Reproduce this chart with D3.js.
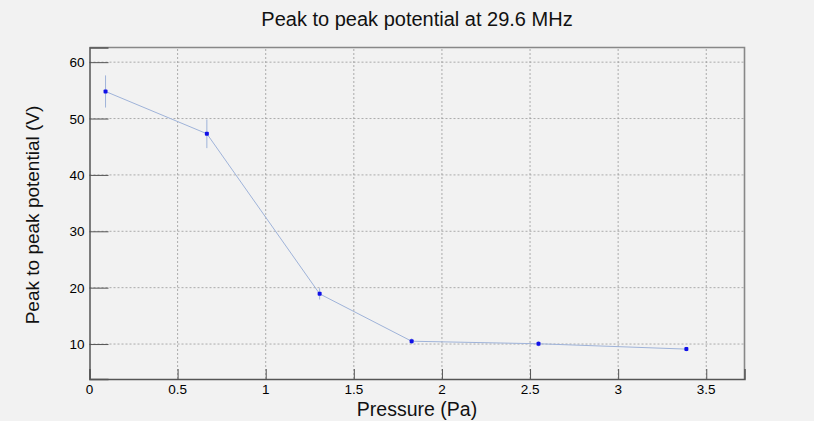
<!DOCTYPE html>
<html>
<head>
<meta charset="utf-8">
<script src="https://cdn.jsdelivr.net/npm/d3@7"></script>
<style>
  body { margin: 0; background: #f2f2f2; }
  svg { display: block; }
  svg text { font-family: "Liberation Sans", Arial, sans-serif; }
</style>
</head>
<body>
<svg width="814" height="421"></svg>
<script>
// data
const pressure = [0.091, 0.666, 1.306, 1.828, 2.548, 3.387];
const potential = [54.8, 47.3, 18.9, 10.5, 10.05, 9.1];
const potentialErr = [2.85, 2.55, 1.0, 0.5, 0.45, 0.4];
const xTicks = [0, 0.5, 1, 1.5, 2, 2.5, 3, 3.5];
const yTicks = [10, 20, 30, 40, 50, 60];

const svg = d3.select("svg");
const width = 814, height = 421;
const margin = { top: 47.5, right: 69.5, bottom: 42, left: 89.5 };

const x = d3.scaleLinear().domain([0, 3.717]).range([margin.left, width - margin.right]);
const y = d3.scaleLinear().domain([3.8, 62.6]).range([height - margin.bottom, margin.top]);

const axisColor = "#555";

// grid
const grid = svg.append("g").attr("stroke", "#999").attr("stroke-dasharray", "2,2").attr("stroke-width", 0.8);
grid.selectAll("line.gx")
  .data(xTicks.filter((d) => d > 0))
  .enter().append("line")
  .attr("x1", (d) => x(d)).attr("x2", (d) => x(d))
  .attr("y1", y.range()[0]).attr("y2", y.range()[1]);
grid.selectAll("line.gy")
  .data(yTicks)
  .enter().append("line")
  .attr("x1", x.range()[0]).attr("x2", x.range()[1])
  .attr("y1", (d) => y(d)).attr("y2", (d) => y(d));

// top + right frame
svg.append("path")
  .attr("d", `M${x.range()[0]},${y.range()[1]}H${x.range()[1]}V${y.range()[0]}`)
  .attr("fill", "none").attr("stroke", "#888").attr("stroke-width", 1.6);

// x axis (ticks pointing up, ROOT style)
const xMinor = d3.range(0, 3.71, 0.1);
const xAxis = svg.append("g").attr("transform", `translate(0,${y.range()[0]})`);
xAxis.call(d3.axisTop(x).tickValues(xMinor).tickSize(5).tickFormat(""));
xAxis.call(d3.axisTop(x).tickValues(xTicks).tickSize(10).tickFormat(""));
xAxis.selectAll("path.domain").attr("stroke", axisColor).attr("stroke-width", 1.5);
xAxis.selectAll("line").attr("stroke", axisColor).attr("stroke-width", 1);

// y axis (ticks pointing right)
const yMinor = d3.range(4, 62.7, 2);
const yAxis = svg.append("g").attr("transform", `translate(${x.range()[0]},0)`);
yAxis.call(d3.axisRight(y).tickValues(yMinor).tickSize(9).tickFormat(""));
yAxis.call(d3.axisRight(y).tickValues(yTicks).tickSize(19).tickFormat(""));
yAxis.selectAll("path.domain").attr("stroke", axisColor).attr("stroke-width", 1.5);
yAxis.selectAll("line").attr("stroke", axisColor).attr("stroke-width", 1);

// tick labels
const labels = svg.append("g").attr("fill", "#000");
labels.selectAll("text.xl")
  .data(xTicks).enter().append("text")
  .style("font-size", "13.5px")
  .attr("x", (d) => x(d)).attr("y", y.range()[0] + 14.5)
  .attr("text-anchor", "middle")
  .text((d) => d3.format("~g")(d));
labels.selectAll("text.yl")
  .data(yTicks).enter().append("text")
  .style("font-size", "13.5px")
  .attr("x", x.range()[0] - 5).attr("y", (d) => y(d) + 5)
  .attr("text-anchor", "end")
  .text((d) => d);

// data
const pts = pressure.map((p, i) => ({ x: p, y: potential[i], e: potentialErr[i] }));
const lineColor = "#9fb3d9";

svg.append("g").selectAll("line")
  .data(pts).enter().append("line")
  .attr("x1", (d) => x(d.x)).attr("x2", (d) => x(d.x))
  .attr("y1", (d) => y(d.y - d.e)).attr("y2", (d) => y(d.y + d.e))
  .attr("stroke", lineColor).attr("stroke-width", 1);

svg.append("path")
  .datum(pts)
  .attr("d", d3.line().x((d) => x(d.x)).y((d) => y(d.y)))
  .attr("fill", "none").attr("stroke", lineColor).attr("stroke-width", 1);

svg.append("g").selectAll("rect")
  .data(pts).enter().append("rect")
  .attr("x", (d) => x(d.x) - 2).attr("y", (d) => y(d.y) - 2)
  .attr("width", 4).attr("height", 4).attr("rx", 1)
  .attr("fill", "#1010e8");

// titles
const titles = svg.append("g").attr("fill", "#111");
titles.append("text")
  .attr("x", 417).attr("y", 26)
  .attr("text-anchor", "middle").style("font-size", "20px")
  .text("Peak to peak potential at 29.6 MHz");

titles.append("text")
  .attr("x", 417).attr("y", 416)
  .attr("text-anchor", "middle").style("font-size", "19.5px")
  .text("Pressure (Pa)");

titles.append("text")
  .attr("transform", "translate(39,215) rotate(-90)")
  .attr("text-anchor", "middle").style("font-size", "19px")
  .text("Peak to peak potential (V)");
</script>
</body>
</html>
